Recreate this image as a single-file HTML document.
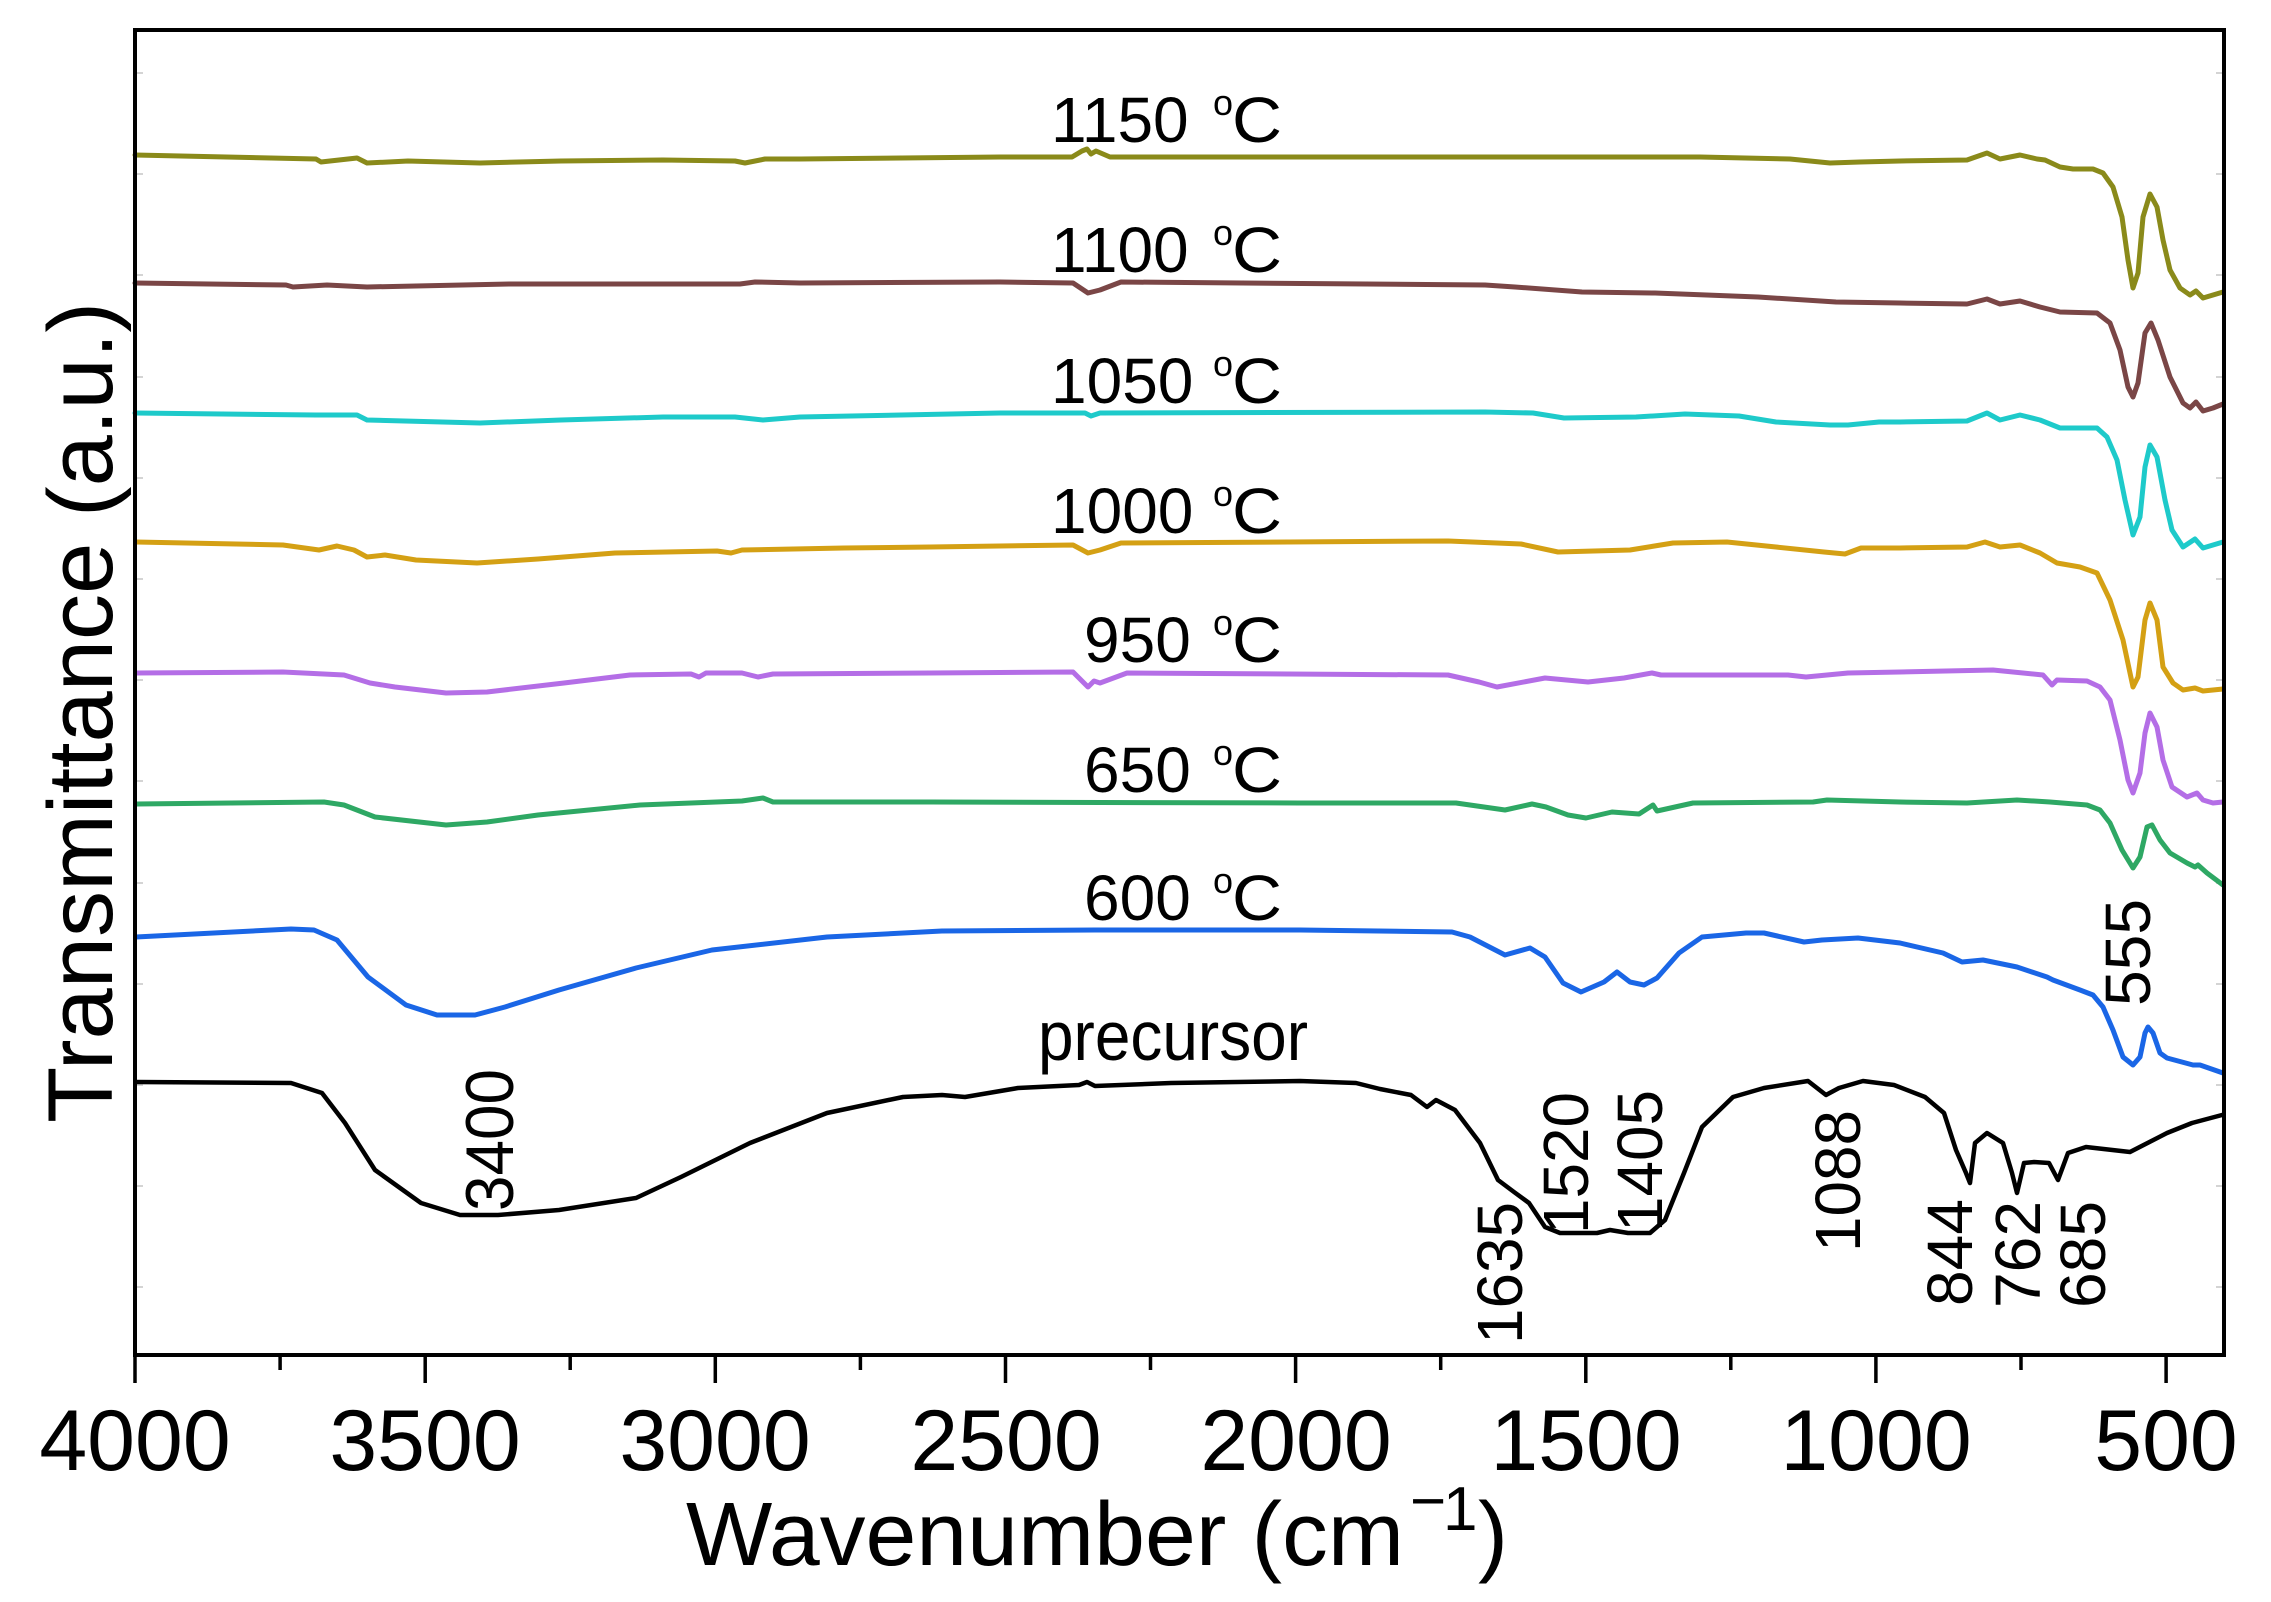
<!DOCTYPE html>
<html><head><meta charset="utf-8"><style>
html,body{margin:0;padding:0;background:#fff;}
svg{display:block;}
text{font-family:"Liberation Sans",Arial,sans-serif;fill:#000;}
</style></head><body>
<svg width="2271" height="1602" viewBox="0 0 2271 1602" xmlns="http://www.w3.org/2000/svg">
<rect x="0" y="0" width="2271" height="1602" fill="#fff"/>

<!-- faint y ticks -->
<g stroke="#d4d4d4" stroke-width="2">
<path d="M137 73h6M137 174h6M137 275h6M137 377h6M137 478h6M137 579h6M137 680h6M137 781h6M137 883h6M137 984h6M137 1085h6M137 1186h6M137 1287h6"/>
<path d="M2222 73h-6M2222 174h-6M2222 275h-6M2222 377h-6M2222 478h-6M2222 579h-6M2222 680h-6M2222 781h-6M2222 883h-6M2222 984h-6M2222 1085h-6M2222 1186h-6M2222 1287h-6"/>
</g>

<g fill="none" stroke-linejoin="round" stroke-linecap="round">
<!-- 1150 -->
<polyline stroke="#8a8a1a" stroke-width="5" points="135,155 316,159 321,162 357,158 367,163 408,161 480,163 561,161 663,160 735,161 745,163 765,159 800,159 1000,157 1072,157 1082,151 1087,149 1091,154 1096,151 1110,157 1400,157 1700,157 1790,159 1830,163 1860,162 1900,161 1967,160 1987,153 2000,159 2020,155 2037,159 2045,160 2060,167 2073,169 2093,169 2103,173 2113,187 2122,217 2128,260 2133,288 2138,273 2143,217 2150,194 2157,207 2163,240 2170,270 2180,288 2190,295 2196,291 2203,298 2213,295 2223,292"/>
<!-- 1100 -->
<polyline stroke="#7a4646" stroke-width="5" points="135,283 286,285 293,287 327,285 367,287 510,284 740,284 755,282 800,283 1000,282 1073,283 1088,293 1100,290 1121,282 1242,283 1485,285 1515,287 1582,292 1655,293 1758,297 1836,302 1900,303 1967,304 1987,299 2000,304 2020,301 2040,307 2060,312 2097,313 2110,323 2120,350 2128,387 2133,397 2138,383 2145,333 2151,323 2158,340 2170,377 2183,403 2190,408 2196,402 2203,411 2213,408 2223,404"/>
<!-- 1050 -->
<polyline stroke="#1ecaca" stroke-width="5" points="135,413 316,415 357,415 367,420 480,423 561,420 663,417 735,417 763,420 800,417 1000,413 1085,413 1091,416 1100,413 1485,412 1533,413 1564,418 1636,417 1685,414 1739,416 1776,422 1830,425 1848,425 1879,422 1900,422 1967,421 1987,413 2000,420 2020,415 2040,420 2060,428 2097,428 2107,437 2117,460 2125,500 2133,535 2140,517 2145,467 2150,445 2157,457 2165,500 2172,530 2183,547 2195,539 2203,548 2213,545 2223,542"/>
<!-- 1000 -->
<polyline stroke="#d4a014" stroke-width="5" points="136,542 283,545 319,550 337,546 354,550 367,557 385,555 416,560 477,563 538,559 615,553 717,551 731,553 742,550 844,548 930,547 1073,545 1088,553 1100,550 1121,543 1448,541 1521,544 1558,552 1630,550 1673,543 1727,542 1776,547 1824,552 1845,554 1861,548 1900,548 1967,547 1985,542 2000,547 2020,545 2040,553 2057,563 2080,567 2097,573 2110,600 2123,640 2130,673 2133,687 2138,677 2145,620 2150,603 2157,620 2163,667 2173,683 2183,690 2195,688 2203,691 2223,689"/>
<!-- 950 -->
<polyline stroke="#b46ee6" stroke-width="5" points="136,673 283,672 344,675 370,683 395,687 446,693 487,692 564,683 630,675 691,674 699,677 706,673 742,673 758,677 773,674 930,673 1073,672 1088,687 1094,681 1100,683 1127,673 1448,675 1479,682 1497,687 1545,678 1588,682 1624,678 1652,673 1661,675 1788,675 1806,677 1848,673 1900,672 1993,670 2043,675 2052,685 2057,680 2087,681 2100,687 2110,700 2120,740 2128,780 2133,793 2140,773 2145,733 2150,713 2157,727 2163,760 2172,787 2187,797 2197,793 2203,800 2213,803 2223,802"/>
<!-- 650 -->
<polyline stroke="#2ea864" stroke-width="5" points="136,804 324,802 344,805 375,817 446,825 487,822 538,815 640,805 742,801 763,798 773,802 930,802 1300,803 1456,803 1505,810 1532,804 1546,807 1568,815 1586,818 1612,812 1639,814 1653,805 1657,811 1693,803 1813,802 1827,800 1900,802 1967,803 2017,800 2050,802 2087,805 2100,810 2110,823 2122,850 2133,868 2140,857 2147,827 2152,825 2160,840 2170,853 2187,863 2195,867 2198,865 2207,873 2223,885"/>
<!-- 600 -->
<polyline stroke="#1a66e6" stroke-width="5" points="136,937 291,929 314,930 337,940 368,977 406,1005 437,1015 475,1015 505,1007 559,990 636,968 712,950 827,937 942,931 1095,930 1300,930 1452,932 1470,937 1505,955 1530,948 1545,957 1563,983 1581,992 1604,982 1617,972 1630,982 1644,985 1657,978 1679,953 1702,937 1746,933 1764,933 1804,942 1822,940 1858,938 1900,943 1943,953 1962,962 1983,960 2017,967 2047,977 2053,980 2080,990 2093,995 2103,1007 2113,1030 2123,1057 2133,1065 2140,1057 2145,1033 2148,1027 2153,1033 2160,1053 2167,1058 2193,1065 2200,1065 2223,1073"/>
<!-- precursor -->
<polyline stroke="#000" stroke-width="4.5" points="136,1082 291,1083 322,1093 345,1123 375,1170 421,1203 460,1215 498,1215 559,1210 636,1198 681,1177 750,1143 827,1113 903,1097 942,1095 965,1097 1018,1088 1079,1085 1087,1082 1095,1086 1171,1083 1300,1081 1356,1083 1380,1089 1411,1095 1427,1107 1436,1100 1455,1110 1480,1143 1498,1180 1514,1192 1529,1203 1545,1227 1560,1233 1597,1233 1610,1230 1628,1233 1650,1233 1665,1220 1684,1173 1702,1127 1733,1097 1764,1088 1808,1081 1826,1095 1839,1088 1863,1081 1894,1085 1925,1097 1944,1113 1956,1150 1966,1173 1970,1183 1975,1143 1987,1133 2003,1143 2012,1173 2017,1193 2024,1163 2034,1162 2049,1163 2058,1180 2068,1153 2086,1147 2130,1152 2167,1133 2192,1123 2222,1115"/>
</g>

<!-- frame -->
<rect x="135" y="30" width="2089" height="1325" fill="none" stroke="#000" stroke-width="4"/>

<!-- x ticks -->
<g stroke="#000" stroke-width="3.5">
<path d="M135 1355V1383M425.2 1355V1383M715.3 1355V1383M1005.5 1355V1383M1295.6 1355V1383M1585.8 1355V1383M1875.9 1355V1383M2166.1 1355V1383"/>
<path d="M280.1 1355V1370M570.2 1355V1370M860.4 1355V1370M1150.5 1355V1370M1440.7 1355V1370M1730.8 1355V1370M2021 1355V1370"/>
</g>

<!-- tick labels -->
<g font-size="86" text-anchor="middle">
<text x="135" y="1470">4000</text>
<text x="425" y="1470">3500</text>
<text x="715" y="1470">3000</text>
<text x="1006" y="1470">2500</text>
<text x="1296" y="1470">2000</text>
<text x="1586" y="1470">1500</text>
<text x="1876" y="1470">1000</text>
<text x="2166" y="1470">500</text>
</g>

<!-- axis titles -->
<text x="686" y="1565" font-size="90" textLength="718" lengthAdjust="spacingAndGlyphs">Wavenumber (cm</text>
<text x="1410" y="1522" font-size="62">−</text>
<text x="1443" y="1530" font-size="62">1</text>
<text x="1478" y="1565" font-size="90">)</text>
<text transform="translate(112,1123) rotate(-90)" font-size="92" textLength="821" lengthAdjust="spacingAndGlyphs">Transmittance (a.u.)</text>

<!-- series labels -->
<g font-size="64">
<text x="1051" y="142">1150</text><text x="1213" y="115" font-size="36">o</text><text x="1232" y="142" textLength="50" lengthAdjust="spacingAndGlyphs">C</text>
<text x="1051" y="272">1100</text><text x="1213" y="245" font-size="36">o</text><text x="1232" y="272" textLength="50" lengthAdjust="spacingAndGlyphs">C</text>
<text x="1051" y="403">1050</text><text x="1213" y="376" font-size="36">o</text><text x="1232" y="403" textLength="50" lengthAdjust="spacingAndGlyphs">C</text>
<text x="1051" y="533">1000</text><text x="1213" y="506" font-size="36">o</text><text x="1232" y="533" textLength="50" lengthAdjust="spacingAndGlyphs">C</text>
<text x="1084" y="662">950</text><text x="1213" y="635" font-size="36">o</text><text x="1232" y="662" textLength="50" lengthAdjust="spacingAndGlyphs">C</text>
<text x="1084" y="792">650</text><text x="1213" y="765" font-size="36">o</text><text x="1232" y="792" textLength="50" lengthAdjust="spacingAndGlyphs">C</text>
<text x="1084" y="920">600</text><text x="1213" y="893" font-size="36">o</text><text x="1232" y="920" textLength="50" lengthAdjust="spacingAndGlyphs">C</text>
<text x="1038" y="1060" font-size="70" textLength="270" lengthAdjust="spacingAndGlyphs">precursor</text>
</g>

<!-- peak labels (rotated) -->
<g font-size="64">
<text transform="translate(513,1211) rotate(-90)" font-size="68" textLength="142" lengthAdjust="spacingAndGlyphs">3400</text>
<text transform="translate(1522,1344) rotate(-90)" textLength="142" lengthAdjust="spacingAndGlyphs">1635</text>
<text transform="translate(1588,1234) rotate(-90)" textLength="142" lengthAdjust="spacingAndGlyphs">1520</text>
<text transform="translate(1662,1232) rotate(-90)" textLength="142" lengthAdjust="spacingAndGlyphs">1405</text>
<text transform="translate(1860,1252) rotate(-90)" textLength="142" lengthAdjust="spacingAndGlyphs">1088</text>
<text transform="translate(1972,1306) rotate(-90)" textLength="107" lengthAdjust="spacingAndGlyphs">844</text>
<text transform="translate(2040,1308) rotate(-90)" textLength="107" lengthAdjust="spacingAndGlyphs">762</text>
<text transform="translate(2105,1308) rotate(-90)" textLength="107" lengthAdjust="spacingAndGlyphs">685</text>
<text transform="translate(2150,1006) rotate(-90)" textLength="107" lengthAdjust="spacingAndGlyphs">555</text>
</g>
</svg>
</body></html>
